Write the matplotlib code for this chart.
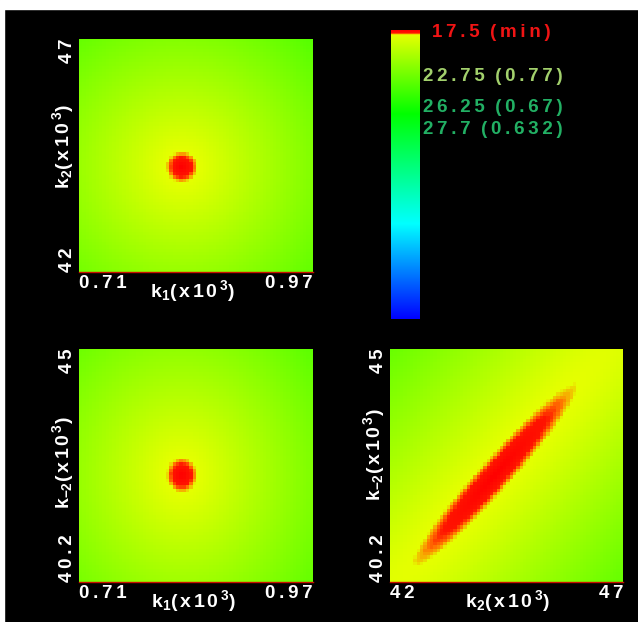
import numpy as np
import matplotlib
matplotlib.use('Agg')
from matplotlib import pyplot as plt
from matplotlib.colors import LinearSegmentedColormap, Normalize
from matplotlib.cm import ScalarMappable
from matplotlib.patches import Rectangle

plt.rcParams['font.family'] = ['Liberation Sans', 'DejaVu Sans']
plt.rcParams['font.weight'] = 'bold'
plt.rcParams['mathtext.fontset'] = 'custom'
plt.rcParams['mathtext.bf'] = 'Liberation Sans:bold'
plt.rcParams['mathtext.rm'] = 'Liberation Sans:bold'
plt.rcParams['mathtext.it'] = 'Liberation Sans:bold'

# parameter ranges on the axes (x10^3)
k1_range = [0.71, 0.97]
k2_range = [42, 47]
km2_range = [40.2, 45]
k1_ticks = ['0.71', '0.97']
k2_ticks = ['42', '47']
km2_ticks = ['40.2', '45']

# best fit (x10^3), read from the red spots
k1_best = 0.824
k2_best = 44.25
km2_best = 42.4

# error scale of the colour bar
err_min = 17.5
err_max = 50.0
bar_values = [22.75, 26.25, 27.7]
bar_fits = ['0.77', '0.67', '0.632']
bar_colors = ['#a2d06c', '#22b064', '#22b064']

# error at the rim of the red spot, and how the error grows away from it
err_rim = 18.02
growth = 1.0
# spot half sizes (fraction of panel) along its two axes, and tilt in degrees
spot_k1k2 = [0.067, 0.067, 0]
spot_k1km2 = [0.065, 0.075, 0]
spot_k2km2 = [0.53, 0.068, 48]

cmap = LinearSegmentedColormap.from_list('err', [
    (0.0, (1.0, 0.0, 0.0)),
    (0.010, (1.0, 0.08, 0.0)),
    (0.013, (1.0, 0.5, 0.0)),
    (0.016, (0.9, 1.0, 0.0)),
    (0.29, (0.0, 1.0, 0.0)),
    (0.67, (0.0, 1.0, 1.0)),
    (1.0, (0.0, 0.0, 1.0)),
], N=2048)
norm = Normalize(err_min, err_max)


def error_surface(xr, yr, xb, yb, spot, n=70):
    x = np.linspace(0, 1, n)
    X, Y = np.meshgrid(x, x)
    cx = (xb - xr[0]) / (xr[1] - xr[0])
    cy = (yb - yr[0]) / (yr[1] - yr[0])
    a = np.radians(spot[2])
    u = (X - cx) * np.cos(a) + (Y - cy) * np.sin(a)
    v = -(X - cx) * np.sin(a) + (Y - cy) * np.cos(a)
    r = np.sqrt((u / spot[0]) ** 2 + (v / spot[1]) ** 2)
    return err_min + (err_rim - err_min) * r ** growth


def spaced(s):
    return '\u2009'.join(s).replace('\u2009 \u2009', '  ')


def panel(rect, xr, yr, xb, yb, spot, xt, yt, xlab, ylab, xlab_x, ylab_y):
    ax = fig.add_axes(rect)
    z = error_surface(xr, yr, xb, yb, spot)
    ax.imshow(z, cmap=cmap, norm=norm, origin='lower', aspect='auto',
              extent=[xr[0], xr[1], yr[0], yr[1]], interpolation='nearest')
    ax.set_facecolor('black')
    for s in ['top', 'left', 'right']:
        ax.spines[s].set_visible(False)
    ax.spines['bottom'].set_color('#c81000')
    ax.spines['bottom'].set_linewidth(1.0)
    ax.set_xticks(xr)
    ax.set_xticklabels([spaced(t) for t in xt], color='white', fontsize=13.5,
                       fontweight='bold')
    ax.set_yticks(yr)
    ax.set_yticklabels([spaced(t) for t in yt], color='white', fontsize=13.5,
                       fontweight='bold', rotation=90)
    ax.tick_params(length=0, pad=2.5)
    xl = ax.get_xticklabels()
    xl[0].set_ha('left')
    xl[1].set_ha('right')
    yl = ax.get_yticklabels()
    yl[0].set_va('bottom')
    yl[1].set_va('top')
    ax.text(xlab_x, -0.025, xlab, transform=ax.transAxes, ha='center', va='top',
            color='white', fontsize=14)
    ax.text(-0.012, ylab_y, ylab, transform=ax.transAxes, ha='right', va='center',
            color='white', fontsize=14, rotation=90)
    return ax


fig = plt.figure(figsize=(6.38, 6.22), dpi=100, facecolor='black')
W, H = 638.0, 622.0
fig.add_artist(Rectangle((0, 1 - 9 / H), 1, 9 / H, transform=fig.transFigure,
                         color='white', zorder=0))
fig.add_artist(Rectangle((0, 0), 4 / W, 1, transform=fig.transFigure,
                         color='white', zorder=0))

lab_k1 = r'$\mathbf{k_{1}(\,x\,1\,0^{\,3})}$'
lab_k2 = r'$\mathbf{k_{2}(\,x\,1\,0^{\,3})}$'
lab_km2 = r'$\mathbf{k_{-2}(\,x\,1\,0^{\,3})}$'

panel([79 / W, 1 - 272 / H, 234 / W, 233 / H], k1_range, k2_range,
      k1_best, k2_best, spot_k1k2, k1_ticks, k2_ticks, lab_k1, lab_k2, 0.483, 0.536)
panel([79 / W, 1 - 582 / H, 234 / W, 233 / H], k1_range, km2_range,
      k1_best, km2_best, spot_k1km2, k1_ticks, km2_ticks, lab_k1, lab_km2, 0.49, 0.51)
panel([390 / W, 1 - 582 / H, 233 / W, 233 / H], k2_range, km2_range,
      k2_best, km2_best, spot_k2km2, k2_ticks, km2_ticks, lab_k2, lab_km2, 0.504, 0.545)

# colour bar
cax = fig.add_axes([391 / W, 1 - 319 / H, 29 / W, 289 / H])
cb = fig.colorbar(ScalarMappable(norm=norm, cmap=cmap), cax=cax)
cb.outline.set_visible(False)
cax.invert_yaxis()
cax.set_yticks([])
cax.annotate(spaced('17.5 (min)'),
             xy=(1, err_min), xycoords=('axes fraction', 'data'),
             xytext=(9, -2), textcoords='offset points', va='center', ha='left',
             color='#f01414', fontsize=13.5)
shifts = [0, 0, -6.5]
for v, f, c, dy in zip(bar_values, bar_fits, bar_colors, shifts):
    txt = spaced('{} ({})'.format(v, f))
    cax.annotate(txt, xy=(1, v), xycoords=('axes fraction', 'data'),
                 xytext=(2, dy), textcoords='offset points', va='center',
                 ha='left', color=c, fontsize=13.5)

fig.savefig('out.png', dpi=100, facecolor='black')
